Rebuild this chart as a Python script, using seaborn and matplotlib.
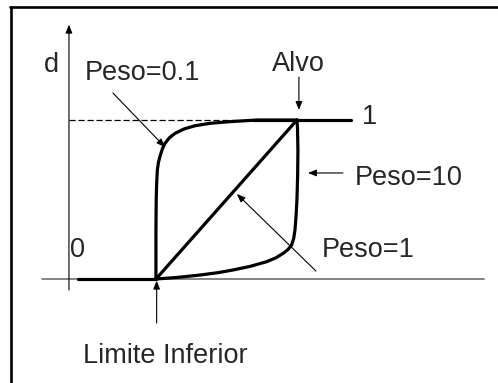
import matplotlib
matplotlib.use("Agg")
import matplotlib.pyplot as plt
import seaborn as sns
import pandas as pd
from matplotlib.lines import Line2D

sns.set_style("white")
plt.rcParams['font.family'] = ['Liberation Sans', 'DejaVu Sans']

# Data (x: 0 = Limite Inferior, 1 = Alvo)
x_w01 = [0.0, 0.0, 0.002, 0.005, 0.010, 0.018, 0.028, 0.044, 0.064, 0.095, 0.135, 0.20, 0.277, 0.38, 0.511, 0.62, 0.723, 1.0]
d_w01 = [0.0, 0.30, 0.50, 0.60, 0.686, 0.735, 0.769, 0.815, 0.853, 0.888, 0.916, 0.944, 0.964, 0.979, 0.989, 0.995, 1.0, 1.0]
x_w1 = [0.0, 1.0]
d_w1 = [0.0, 1.0]
x_w10 = [0.0, 0.15, 0.312, 0.44, 0.548, 0.67, 0.785, 0.85, 0.903, 0.937, 0.962, 0.977, 0.986, 0.994, 1.0, 1.005, 1.007, 1.004, 1.0]
d_w10 = [0.0, 0.010, 0.025, 0.040, 0.057, 0.080, 0.109, 0.133, 0.162, 0.186, 0.214, 0.255, 0.308, 0.40, 0.497, 0.65, 0.811, 0.95, 1.0]
x_base = [-0.551, 0.0]
d_base = [0.0, 0.0]
x_top = [0.69, 1.383]
d_top = [1.0, 1.0]

fig = plt.figure(figsize=(4.98, 3.83), dpi=100)
ax = fig.add_axes([0, 0, 1, 1])
ax.set_xlim(-1.106, 2.426)
ax.set_ylim(-0.654, 1.755)
ax.axis('off')

# frame (clipped on right and bottom)
fig.add_artist(Line2D([10.8 / 498, 10.8 / 498], [0, 1 - 6.5 / 383], color='black', lw=1.9, transform=fig.transFigure))
fig.add_artist(Line2D([10 / 498, 1], [1 - 6.5 / 383, 1 - 6.5 / 383], color='black', lw=1.9, transform=fig.transFigure))

# axes
ax.plot([-0.809, 2.326], [0, 0], color='#707070', lw=1.2, zorder=1)
ax.annotate('', xy=(-0.617, 1.60), xytext=(-0.617, -0.069),
            arrowprops=dict(arrowstyle='-|>,head_length=0.5,head_width=0.2', color='black', lw=0.8, shrinkA=0, shrinkB=0))
# dashed target level
ax.plot([-0.617, 0.69], [1, 1], color='black', lw=0.9, ls=(0, (5, 2.2)))

thick = dict(color='black', lw=2.3, estimator=None, sort=False, legend=False, ax=ax)
for xs, ys in [(x_base, d_base), (x_top, d_top), (x_w01, d_w01), (x_w1, d_w1), (x_w10, d_w10)]:
    sns.lineplot(data=pd.DataFrame({'x': xs, 'd': ys}), x='x', y='d', **thick)
ax.axis('off')

fs = 19.5
ap = dict(arrowstyle='-|>,head_length=0.5,head_width=0.2', color='black', lw=0.8, shrinkA=0, shrinkB=0)
ax.text(-0.738, 1.346, 'd', fontsize=fs, ha='center', va='center')
ax.text(-0.504, 1.296, 'Peso=0.1', fontsize=fs, ha='left', va='center')
ax.annotate('', xy=(0.064, 0.83), xytext=(-0.305, 1.17), arrowprops=ap)
ax.text(1.007, 1.352, 'Alvo', fontsize=fs, ha='center', va='center')
ax.annotate('', xy=(1.014, 1.063), xytext=(1.014, 1.27), arrowprops=ap)
ax.text(1.518, 1.019, '1', fontsize=fs, ha='center', va='center')
ax.text(1.411, 0.635, 'Peso=10', fontsize=fs, ha='left', va='center')
ax.annotate('', xy=(1.078, 0.667), xytext=(1.326, 0.667), arrowprops=ap)
ax.text(1.177, 0.182, 'Peso=1', fontsize=fs, ha='left', va='center')
ax.annotate('', xy=(0.574, 0.535), xytext=(1.135, 0.05), arrowprops=ap)
ax.text(-0.553, 0.182, '0', fontsize=fs, ha='center', va='center')
ax.text(0.064, -0.484, 'Limite Inferior', fontsize=fs, ha='center', va='center')
ax.annotate('', xy=(0.005, -0.01), xytext=(0.005, -0.277), arrowprops=ap)

fig.savefig('out.png', dpi=100)
